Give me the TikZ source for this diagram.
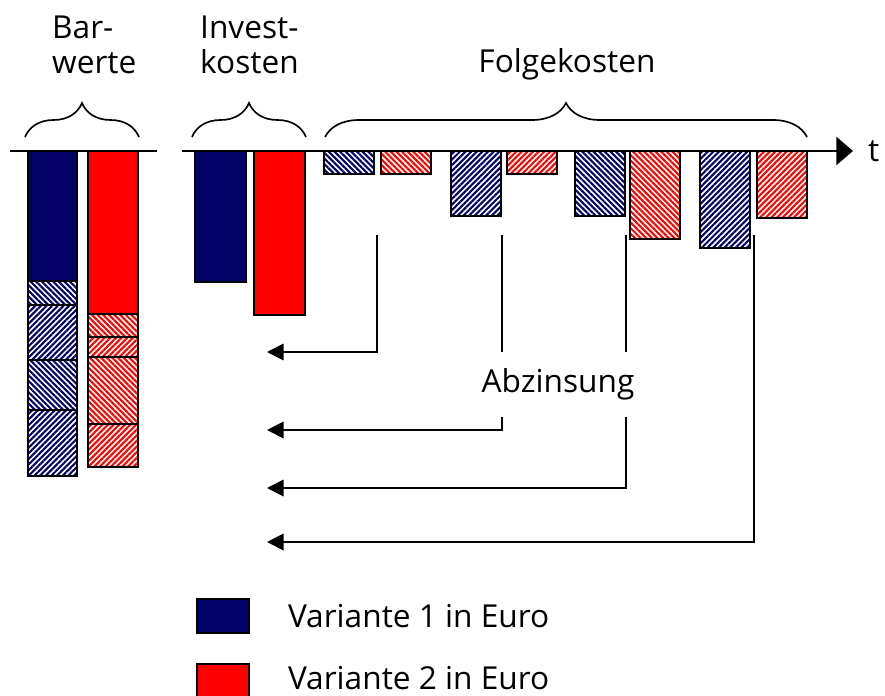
\documentclass[tikz,border=0pt]{standalone}
\usepackage{fontspec}
\setmainfont{Open Sans}
\usetikzlibrary{positioning,arrows.meta,patterns.meta,decorations.pathreplacing}
\definecolor{navyblue}{RGB}{0,0,102}

\tikzset{
  bar/.style={draw=black, line width=1.4pt},
  v1fill/.style={bar, fill=navyblue},
  v2fill/.style={bar, fill=red},
  hatchA/.style={bar, pattern={Lines[angle=-45,distance=3.4pt,line width=1.8pt]}, pattern color=#1},
  hatchB/.style={bar, pattern={Lines[angle=45,distance=3.4pt,line width=1.8pt]}, pattern color=#1},
  txt/.style={font=\fontsize{27}{30}\selectfont, inner sep=0pt},
  curly/.style={decorate, decoration={brace, amplitude=1.02cm}, line width=1.4pt},
  discount/.style={line width=1.6pt, -{Triangle[length=0.5cm,width=0.5cm]}},
}

\begin{document}
\begin{tikzpicture}[x=0.03cm, y=-0.03cm]
\useasboundingbox (0,0) rectangle (885,696);

% Barwerte, Variante 1
\draw[v1fill] (28,151) rectangle (77,281);
\draw[hatchA=navyblue] (28,281) rectangle (77,305);
\draw[hatchB=navyblue] (28,305) rectangle (77,360);
\draw[hatchA=navyblue] (28,360) rectangle (77,410);
\draw[hatchB=navyblue] (28,410) rectangle (77,476);
% Barwerte, Variante 2
\draw[v2fill] (88,151) rectangle (138,314);
\draw[hatchA=red] (88,314) rectangle (138,337);
\draw[hatchB=red] (88,337) rectangle (138,357);
\draw[hatchA=red] (88,357) rectangle (138,424);
\draw[hatchB=red] (88,424) rectangle (138,467);

% Investkosten
\draw[v1fill] (195,151) rectangle (246,282);
\draw[v2fill] (254,151) rectangle (305,315);

% Folgekosten je Jahr
\foreach \xb/\yb/\xr/\yr/\hs in {324/174/381/174/hatchA, 451/216/507/174/hatchB,
                                 575/216/630/239/hatchA, 700/248/757/218/hatchB}{
  \draw[\hs=navyblue] (\xb,151) rectangle ++(50,\yb-151);
  \draw[\hs=red] (\xr,151) rectangle ++(50,\yr-151);
}

% Achsen
\coordinate (bw0) at (10,151);
\coordinate (bw1) at (157,151);
\draw[line width=2.5pt] (bw0) -- (bw1);
\coordinate (t0) at (182,151);
\coordinate (t1) at (853,151);
\draw[line width=2.2pt, -{Triangle[length=0.5cm,width=0.84cm]}] (t0) -- (t1);
\node[txt, right=0.45cm of t1] (tlab) {t};

% Klammern und Titel
\draw[curly] (25,137) -- (139,137);
\draw[curly] (192,137) -- (306,137);
\draw[curly] (325,137) -- (807,137);
\node[txt, align=left, anchor=west] (barw) at (52,45) {Bar-\\werte};
\node[txt, align=left, anchor=west] (inv) at (200,45) {Invest-\\kosten};
\node[txt] (folge) at (567,64) {Folgekosten};

% Abzinsung
\node[txt, minimum height=1.95cm] (abz) at (558,384.5) {Abzinsung};
\coordinate (d1) at (377,235);
\coordinate (d2) at (502,235);
\coordinate (d3) at (626,235);
\coordinate (d4) at (754,235);
\coordinate (a1) at (267,352);
\coordinate (a2) at (267,430);
\coordinate (a3) at (267,488);
\coordinate (a4) at (267,542);
\draw[discount] (d1) |- (a1);
\draw[line width=1.6pt] (d2) -- (d2 |- abz.north);
\draw[discount] (d2 |- abz.south) |- (a2);
\draw[line width=1.6pt] (d3) -- (d3 |- abz.north);
\draw[discount] (d3 |- abz.south) |- (a3);
\draw[discount] (d4) |- (a4);

% Legende
\node[bar, fill=navyblue, minimum width=1.56cm, minimum height=1.02cm] (key1) at (223,616) {};
\node[bar, fill=red, minimum width=1.56cm, minimum height=1.02cm] (key2) at (223,681) {};
\node[txt, right=1.14cm of key1] (lab1) {Variante 1 in Euro};
\node[txt, right=1.14cm of key2, yshift=0.1cm] (lab2) {Variante 2 in Euro};
\end{tikzpicture}
\end{document}
